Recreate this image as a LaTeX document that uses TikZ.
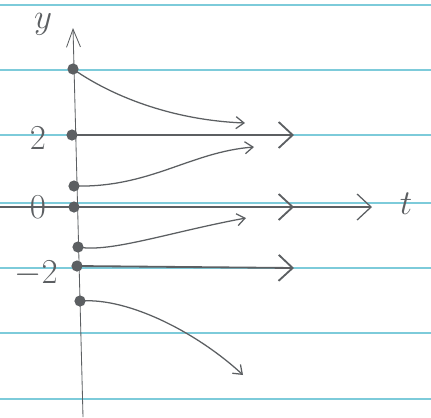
\documentclass[tikz,border=0pt]{standalone}
\usetikzlibrary{arrows.meta}
\definecolor{pencil}{RGB}{92,95,98}
\definecolor{ruled}{RGB}{125,203,218}
\tikzset{
  sol/.style={circle, fill=pencil, minimum size=0.28cm, inner sep=0pt},
  flow/.style={-{Straight Barb[length=2mm, width=3mm]}, pencil, line width=0.9pt},
  eqline/.style={-{Straight Barb[length=3.5mm, width=6.5mm]}, pencil, line width=1.3pt},
  axisline/.style={pencil, line width=0.6pt},
  lbl/.style={font=\fontsize{24}{26}\selectfont, text=pencil},
  ruling/.style={ruled, line width=0.9pt}
}
\begin{document}
\begin{tikzpicture}[x=0.025cm, y=-0.025cm]
\useasboundingbox (0,0) rectangle (431,417);
% ruled paper
\foreach \ry in {5,70,135,203,268,333,399}
  \draw[ruling] (0,\ry) -- (431,\ry);
% axes
\coordinate (ybot) at (83,417);
\coordinate (ytop) at (73,28);
\coordinate (tleft) at (0,207);
\coordinate (tright) at (372,207);
\draw[axisline, -{Straight Barb[length=4.5mm, width=3.5mm]}] (ybot) -- (ytop);
\draw[axisline, line width=0.9pt, -{Straight Barb[length=3.5mm, width=6.5mm]}] (tleft) -- (tright);
\node[lbl, font=\fontsize{30}{32}\selectfont] (ylbl) at (43,24) {$y$};
\node[lbl] (tlbl) at (406,204) {$t$};
\node[lbl] (two) at (38,138) {$2$};
\node[lbl] (zero) at (38,207) {$0$};
\node[lbl] (mtwo) at (36,274) {$-2$};
% initial values
\node[sol] (s1) at (73,69) {};
\node[sol] (s2) at (72,135) {};
\node[sol] (s3) at (74,186) {};
\node[sol] (s4) at (74,207) {};
\node[sol] (s5) at (78,247) {};
\node[sol] (s6) at (77,266) {};
\node[sol] (s7) at (80,301) {};
% arrow ends
\coordinate (e1) at (245,123);
\coordinate (e2) at (294,135);
\coordinate (e3) at (254,147);
\coordinate (e4) at (294,207);
\coordinate (e5) at (246,218);
\coordinate (e6) at (294,268);
\coordinate (e7) at (243,375);
% solution curves
\draw[flow] (s1.center) .. controls (110,95) and (170,120) .. (e1);
\draw[eqline] (s2.center) -- (e2);
\draw[flow] (s3.center) .. controls (150,188) and (190,152) .. (e3);
\draw[eqline] (s4.center) -- (e4);
\draw[flow] (s5.center) .. controls (110,253) and (170,232) .. (e5);
\draw[eqline] (s6.center) -- (e6);
\draw[flow] (s7.center) .. controls (130,297) and (200,335) .. (e7);
\end{tikzpicture}
\end{document}
